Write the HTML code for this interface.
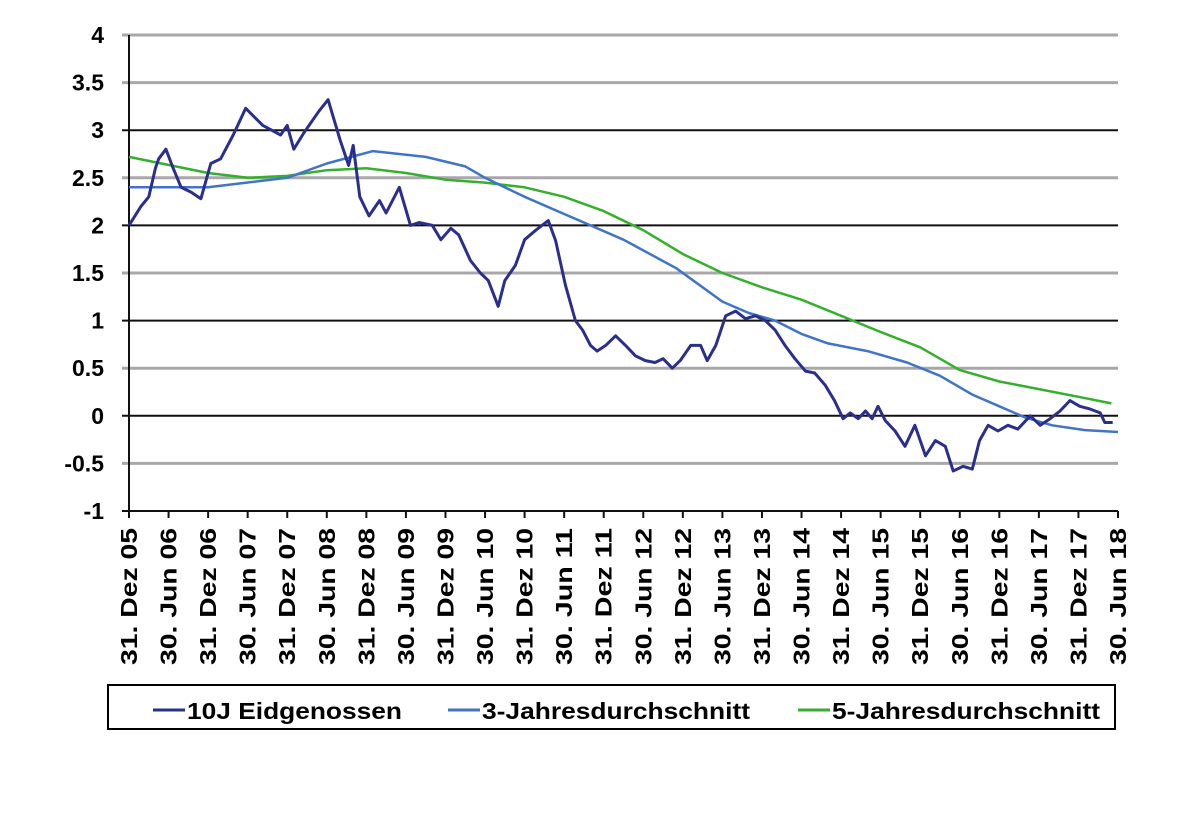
<!DOCTYPE html>
<html><head><meta charset="utf-8"><style>
body{margin:0;background:#fff;width:1200px;height:809px;overflow:hidden}
svg text{font-family:"Liberation Sans",Arial,sans-serif;font-weight:bold;fill:#000}
</style></head><body>
<svg id="chart" width="1200" height="809" xmlns="http://www.w3.org/2000/svg">
<g id="grid"></g>
<g id="yaxis"></g>
<g id="xaxis"></g>
<g id="series"></g>
<g>
<rect x="108" y="685" width="1007" height="44" fill="#fff" stroke="#000" stroke-width="2"/>
<g><line x1="153" y1="710" x2="185" y2="710" stroke="#2b2f8c" stroke-width="3"/><text x="187" y="719" font-size="23" textLength="215" lengthAdjust="spacingAndGlyphs">10J Eidgenossen</text></g>
<g><line x1="448" y1="710" x2="480" y2="710" stroke="#3f74c9" stroke-width="3"/><text x="482" y="719" font-size="23" textLength="268" lengthAdjust="spacingAndGlyphs">3-Jahresdurchschnitt</text></g>
<g><line x1="798" y1="710" x2="830" y2="710" stroke="#35b02c" stroke-width="3"/><text x="832" y="719" font-size="23" textLength="268" lengthAdjust="spacingAndGlyphs">5-Jahresdurchschnitt</text></g>
</g>
</svg>
<script>
const yTicks=[4,3.5,3,2.5,2,1.5,1,0.5,0,-0.5,-1];
const yTickLabels=["4","3.5","3","2.5","2","1.5","1","0.5","0","-0.5","-1"];
const xTickLabels=["31. Dez 05","30. Jun 06","31. Dez 06","30. Jun 07","31. Dez 07","30. Jun 08","31. Dez 08","30. Jun 09","31. Dez 09","30. Jun 10","31. Dez 10","30. Jun 11","31. Dez 11","30. Jun 12","31. Dez 12","30. Jun 13","31. Dez 13","30. Jun 14","31. Dez 14","30. Jun 15","31. Dez 15","30. Jun 16","31. Dez 16","30. Jun 17","31. Dez 17","30. Jun 18"];
const tenMonths=[0,1.8,3,4,4.5,5.6,6.7,7.9,9.4,10.9,12.4,13.9,15.8,17.7,20.3,23,24,25,26.5,28.8,30.2,32,33.3,34,35,36.4,38,39,41,42.7,44,46,47.3,48.8,50,51.8,53.3,54.5,56,57,58.6,60,61.7,63.6,64.7,66.2,67.7,68.8,70,71,72.3,73.8,75.3,76.8,78.3,79.8,81,82.4,83.6,85.2,86.7,87.7,89,90.5,92,93.5,95,96.5,98,99.5,101,102.6,104,105.6,107,108.3,109.4,110.6,111.7,112.7,113.6,114.7,116.2,117.7,119.2,120.8,122.3,123.8,125,126.5,127.9,129,130.3,131.8,133.3,134.8,136.7,138.2,139.7,141.2,142.7,144.2,145.8,147.3,148,149.2];
const tenValues=[2.0,2.2,2.3,2.6,2.7,2.8,2.6,2.4,2.35,2.28,2.65,2.7,2.95,3.23,3.05,2.95,3.05,2.8,2.97,3.2,3.32,2.9,2.63,2.84,2.3,2.1,2.26,2.13,2.4,2.0,2.03,2.0,1.85,1.97,1.9,1.63,1.5,1.42,1.15,1.42,1.58,1.85,1.95,2.05,1.84,1.37,1.0,0.9,0.74,0.68,0.74,0.84,0.74,0.63,0.58,0.56,0.6,0.5,0.58,0.74,0.74,0.58,0.74,1.05,1.1,1.02,1.05,1.0,0.9,0.74,0.6,0.47,0.45,0.32,0.16,-0.03,0.03,-0.03,0.05,-0.03,0.1,-0.05,-0.16,-0.32,-0.1,-0.42,-0.26,-0.32,-0.58,-0.53,-0.56,-0.26,-0.1,-0.16,-0.1,-0.14,0,-0.1,-0.03,0.05,0.16,0.1,0.07,0.03,-0.07,-0.07];
const threeMonths=[0,12,24,30,37,45,51,54,60,66,75,83,90,94,98,102,106,112,118,123,128,132,136,140,145,150];
const threeValues=[2.4,2.4,2.5,2.65,2.78,2.72,2.62,2.5,2.3,2.12,1.85,1.55,1.2,1.08,1.0,0.86,0.76,0.68,0.56,0.42,0.22,0.1,-0.02,-0.1,-0.15,-0.17];
const fiveMonths=[0,12,18,24,30,36,42,48,54,60,66,72,78,84,90,96,102,108,114,120,126,132,138,144,149];
const fiveValues=[2.72,2.55,2.5,2.52,2.58,2.6,2.55,2.48,2.45,2.4,2.3,2.15,1.95,1.7,1.5,1.35,1.22,1.05,0.88,0.72,0.48,0.36,0.28,0.2,0.13];

const X0=129,X1=1118,Y0=511,Y1=35,VMIN=-1,VMAX=4,MMAX=150;
const xs=m=>X0+(X1-X0)*m/MMAX;
const ys=v=>Y0-(Y0-Y1)*(v-VMIN)/(VMAX-VMIN);
const NS="http://www.w3.org/2000/svg";
function mk(tag,attrs,parent){const e=document.createElementNS(NS,tag);for(const k in attrs)e.setAttribute(k,attrs[k]);parent.appendChild(e);return e;}
const grid=document.getElementById('grid'),ya=document.getElementById('yaxis'),xa=document.getElementById('xaxis'),se=document.getElementById('series');
yTicks.forEach((v,i)=>{
  const y=ys(v);
  if(v>-1){const black=(Math.abs(v%1)<1e-9)&&v!==4;
    const l=mk('line',{x1:122,x2:X1,y1:y,y2:y,stroke:black?'#111':'#a8a8a8','stroke-width':black?2:3},grid);
    
    }
  const t=mk('text',{x:104,y:y+8,'text-anchor':'end','font-size':23},ya);
  t.textContent=yTickLabels[i];
  
  
});
mk('line',{x1:X0,x2:X0,y1:Y1,y2:Y0,stroke:'#111','stroke-width':2},ya);
mk('line',{x1:122,x2:X1,y1:Y0,y2:Y0,stroke:'#111','stroke-width':2},xa);
xTickLabels.forEach((s,i)=>{
  const x=xs(i*6);
  mk('line',{x1:x,x2:x,y1:Y0,y2:Y0+7,stroke:'#111','stroke-width':2},xa);
  const t=mk('text',{x:0,y:0,'text-anchor':'end','font-size':23,textLength:137,lengthAdjust:'spacingAndGlyphs',transform:`translate(${x+8},${Y0+17}) rotate(-90)`},xa);
  t.textContent=s;
  
  
});
function line(ms,vs,color,w,name){
  const d=ms.map((m,i)=>(i?'L':'M')+xs(m).toFixed(1)+','+ys(vs[i]).toFixed(1)).join('');
  const p=mk('path',{d:d,fill:'none',stroke:color,'stroke-width':w,'stroke-linejoin':'round'},se);
  
  
}
line(fiveMonths,fiveValues,'#35b02c',2.5,'line-5-jahresdurchschnitt');
line(threeMonths,threeValues,'#3f74c9',2.5,'line-3-jahresdurchschnitt');
line(tenMonths,tenValues,'#2b2f8c',3,'line-10j-eidgenossen');
</script>
</body></html>
